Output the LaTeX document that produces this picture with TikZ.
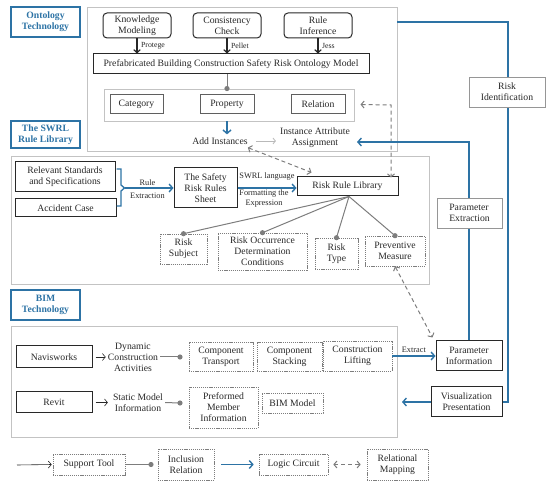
\documentclass[tikz,border=0pt]{standalone}
\usepackage{fontspec}
\setmainfont{Liberation Serif}
\usetikzlibrary{arrows.meta,calc}
\definecolor{myblue}{RGB}{45,115,165}
\definecolor{dk}{RGB}{40,40,40}
\definecolor{fr}{RGB}{195,195,195}
\definecolor{mg}{RGB}{125,125,125}
\definecolor{cg}{RGB}{95,95,95}
\definecolor{lg}{RGB}{150,150,150}
\definecolor{vlg}{RGB}{185,185,185}
\newcommand\mf{\fontsize{9.7}{11}\selectfont}
\newcommand\smf{\fontsize{7.8}{8.5}\selectfont}
\newcommand\lbf{\fontsize{8.3}{9.6}\selectfont}
\begin{document}
\begin{tikzpicture}[x=1pt,y=-1pt,
  every node/.style={font=\mf, text=dk, inner sep=1pt, align=center},
  lab/.style={draw=myblue,line width=1.3pt,text=myblue,font=\mf\bfseries,minimum width=69pt},
  frm/.style={draw=fr,line width=0.9pt,inner sep=0pt},
  bb/.style={draw=dk,line width=1pt,fill=white},
  rb/.style={bb,rounded corners=4pt},
  gb/.style={draw=cg,line width=1pt},
  db/.style={draw=mg,line width=0.6pt,dash pattern=on 1.2pt off 0.9pt},
  lb/.style={draw=lg,line width=0.8pt,fill=white},
  small/.style={font=\smf,inner sep=0.5pt},
  mid/.style={font=\lbf,inner sep=0.5pt},
  blk/.style={draw=dk,line width=1.2pt,-{Straight Barb[length=3pt,width=6.5pt]}},
  blu/.style={draw=myblue,line width=1.4pt},
  bluar/.style={blu,-{Straight Barb[length=3.5pt,width=8pt]}},
  thinar/.style={draw=dk,line width=0.6pt,-{Straight Barb[length=3pt,width=7pt]}},
  lgar/.style={draw=vlg,line width=0.8pt,-{Straight Barb[length=2.5pt,width=6pt]}},
  dsh/.style={draw=mg,line width=1pt,dash pattern=on 4pt off 3pt,
    {Straight Barb[length=3pt,width=7pt]}-{Straight Barb[length=3pt,width=7pt]}},
  incl/.style={draw=mg,line width=1pt},
]
\useasboundingbox (0,0) rectangle (550,484);

% ---------- labels
\node[lab,minimum height=30pt] (ontlab) at (45.5,22) {Ontology\\Technology};
\node[lab,minimum height=27pt] (swrllab) at (45.5,134.5) {The SWRL\\Rule Library};
\node[lab,minimum height=30pt] (bimlab) at (45.5,305) {BIM\\Technology};

% ---------- frames
\node[frm,minimum width=310pt,minimum height=144pt] (ontf) at (242,79) {};
\node[frm,minimum width=418pt,minimum height=128pt] (swrlf) at (220,220) {};
\node[frm,minimum width=386pt,minimum height=111pt] (bimf) at (204,381.5) {};
\node[frm,minimum width=250pt,minimum height=32pt] (inner) at (229,105) {};

% ---------- ontology
\node[rb,minimum width=68pt,minimum height=25pt] (km) at (137,25.5) {Knowledge\\Modeling};
\node[rb,minimum width=68pt,minimum height=25pt] (cc) at (227,25.5) {Consistency\\Check};
\node[rb,minimum width=68pt,minimum height=25pt] (ri) at (318,25.5) {Rule\\Inference};
\node[bb,minimum width=276pt,minimum height=20pt] (prefab) at (231,64) {Prefabricated Building Construction Safety Risk Ontology Model};
\node[gb,minimum width=53pt,minimum height=19pt] (cat) at (136.5,104.5) {Category};
\node[gb,minimum width=54pt,minimum height=19pt] (prop) at (227,104.5) {Property};
\node[gb,minimum width=54pt,minimum height=19pt] (rel) at (318,104.5) {Relation};
\node (addinst) at (220,141) {Add Instances};
\node (iaa) at (315,137.5) {Instance Attribute\\Assignment};

\draw[blk] (km.south) -- (km.south |- prefab.north) node[small,midway,right=3pt] (lp) {Protege};
\draw[blk] (cc.south) -- (cc.south |- prefab.north) node[small,midway,right=3pt] (lpe) {Pellet};
\draw[blk] (ri.south) -- (ri.south |- prefab.north) node[small,midway,right=3pt] (lj) {Jess};
\draw[incl] (prop.north |- prefab.south) -- (prop.north |- inner.north);
\fill[mg] (prop.north |- inner.north) circle (2.6pt);
\draw[bluar] (prop.south |- inner.south) -- ([yshift=2pt]prop.south |- addinst.north);
\draw[lgar,shorten <=7pt] (addinst.east) -- ([xshift=-3pt]addinst.east -| iaa.west);

% ---------- SWRL
\node[bb,minimum width=100pt,minimum height=30pt] (rsbox) at (65,177) {Relevant Standards\\and Specifications};
\node[bb,minimum width=101pt,minimum height=18pt] (acc) at (65.5,208) {Accident Case};
\node[bb,minimum width=63pt,minimum height=40pt] (sheet) at (205.5,188) {The Safety\\Risk Rules\\Sheet};
\node[bb,minimum width=101pt,minimum height=19pt] (rrl) at (347.5,186.5) {Risk Rule Library};
\node[db,minimum width=47pt,minimum height=30pt] (rsub) at (183.5,249) {Risk\\Subject};
\node[db,minimum width=89pt,minimum height=37pt] (roc) at (262.5,251.5) {Risk Occurrence\\Determination\\Conditions};
\node[db,minimum width=43pt,minimum height=31pt] (rtype) at (336.5,253.5) {Risk\\Type};
\node[db,minimum width=60pt,minimum height=30pt] (pm) at (395,251) {Preventive\\Measure};

\coordinate (br) at (124.5,188);
\draw[blu,line width=1.3pt] (116.5,169) -| (121,185) -- (br) -- (121,191) |- (116.5,206);
\draw[bluar] (br) -- (sheet.west);
\node[mid] (lr1) at (147.5,183) {Rule};
\node[mid] (lr2) at (147.5,195.5) {Extraction};
\draw[bluar] (sheet.east) -- (sheet.east -| rrl.west);
\node[mid] (ls1) at (267,176.5) {SWRL language};
\node[mid] (ls2) at (264,198.5) {Formatting the\\Expression};

\foreach \t in {rsub,roc,rtype,pm}{
  \draw[incl] ([xshift=1.5pt]rrl.south) -- (\t.north);
  \fill[mg] (\t.north) circle (2.6pt);
}

% dashed relational mappings
\coordinate (rc) at (391,105);
\draw[dsh] ([xshift=15pt]rel.east) -- (rc) -- ([yshift=-1pt]rc |- rrl.north);
\draw[dsh] ([shift={(-1,2)}]addinst.south east) -- ([shift={(15,-4)}]rrl.north west);

% ---------- BIM
\node[bb,minimum width=76pt,minimum height=22pt] (navis) at (54,357) {Navisworks};
\node[bb,minimum width=76pt,minimum height=21pt] (revit) at (54,402.5) {Revit};
\node (dca) at (133,357) {Dynamic\\Construction\\Activities};
\node (smi) at (138,402.5) {Static Model\\Information};
\node[db,minimum width=64pt,minimum height=29pt] (ct) at (221,356.5) {Component\\Transport};
\node[db,minimum width=65pt,minimum height=29pt] (cs) at (289.5,356.5) {Component\\Stacking};
\node[db,minimum width=69pt,minimum height=30pt] (cl) at (357.5,356) {Construction\\Lifting};
\node[db,minimum width=69pt,minimum height=41pt] (pmi) at (223.5,407.5) {Preformed\\Member\\Information};
\node[db,minimum width=61pt,minimum height=20pt] (bimm) at (292.5,403) {BIM Model};
\node[bb,minimum width=66pt,minimum height=30pt] (pinfo) at (469,356) {Parameter\\Information};
\node[bb,minimum width=71pt,minimum height=30pt] (vis) at (466.5,402) {Visualization\\Presentation};

\draw[thinar,shorten <=3pt] (navis.east) -- ([xshift=-1pt]navis.east -| dca.west);
\draw[thinar,shorten <=3pt] (revit.east) -- ([xshift=-4pt]revit.east -| smi.west);
\coordinate (d1) at (180,357);
\coordinate (d2) at (180,403);
\draw[incl,shorten <=1pt] (dca.east) -- (d1);
\fill[mg] (d1) circle (2.6pt);
\draw[incl,shorten <=1pt] (smi.east) -- (d2);
\fill[mg] (d2) circle (2.6pt);
\draw[bluar] (cl.east) -- (cl.east -| pinfo.west) node[mid,midway,above=2pt] (lex) {Extract};
\coordinate (v2) at (402,402);
\draw[bluar] (vis.west) -- (v2);
\draw[dsh] (pm.south) -- ([shift={(-3,-3)}]pinfo.north west);

% ---------- logic circuits on the right
\coordinate (b1) at (508,22);
\draw[blu] (ontf.east |- b1) -- (b1) -- (b1 |- vis.east) -- (vis.east);
\coordinate (b2) at (357,142);
\draw[bluar] (pinfo.north) |- (b2);
\node[lb,minimum width=76pt,minimum height=30pt] (riskid) at (507,92) {Risk\\Identification};
\node[lb,minimum width=65pt,minimum height=30pt,align=left] (pext) at (469.5,213) {Parameter\\Extraction};

% ---------- legend
\coordinate (l0) at (17,465);
\node[db,minimum width=72pt,minimum height=21pt] (st) at (89,464.5) {Support Tool};
\node[db,minimum width=56pt,minimum height=31pt] (ir) at (186,464.5) {Inclusion\\Relation};
\node[db,minimum width=69pt,minimum height=21pt] (lc) at (293.5,464.5) {Logic Circuit};
\node[db,minimum width=61pt,minimum height=31pt] (rm) at (397.5,464.5) {Relational\\Mapping};
\draw[thinar,shorten >=1pt] (l0) -- (st.west);
\coordinate (d3) at (151,464.5);
\draw[incl] (st.east) -- (d3);
\fill[mg] (d3) circle (2.6pt);
\draw[bluar,shorten <=7pt,shorten >=5pt] (ir.east) -- (lc.west);
\draw[dsh,shorten <=5pt,shorten >=6pt] (lc.east) -- (rm.west);
\end{tikzpicture}
\end{document}
